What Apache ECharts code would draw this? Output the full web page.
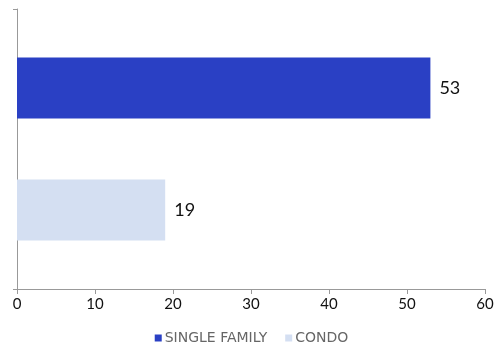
<!DOCTYPE html>
<html>
<head>
<meta charset="utf-8">
<script src="https://cdn.jsdelivr.net/npm/echarts@6/dist/echarts.min.js"></script>
<style>
  html, body { margin: 0; padding: 0; background: #fff; }
  #chart { width: 503px; height: 345px; }
</style>
</head>
<body>
<div id="chart"></div>
<script>
var categories = [''];
var seriesNames = ['SINGLE FAMILY', 'CONDO'];
var singleFamily = [53];
var condo = [19];
var xTicks = [0, 10, 20, 30, 40, 50, 60];

(function() {
    var myChart = echarts.init(document.getElementById('chart'));
    var font = 'Lato, "Open Sans", sans-serif';

    var option = {
        animation: false,
        grid: { left: 17, right: 18, top: 9, bottom: 56, containLabel: false },
        legend: {
            top: 326,
            left: 'center',
            itemWidth: 7,
            itemHeight: 7,
            itemGap: 18,
            icon: 'rect',
            textStyle: { color: '#666', fontSize: 14, fontFamily: '"DejaVu Sans", sans-serif', padding: [0, 0, 0, -2] },
            data: seriesNames
        },
        xAxis: {
            type: 'value',
            min: xTicks[0],
            max: xTicks[xTicks.length - 1],
            interval: 10,
            axisLine: { show: true, lineStyle: { color: '#999' } },
            axisTick: { show: true, length: 5, lineStyle: { color: '#999' } },
            splitLine: { show: false },
            axisLabel: { color: '#111', fontSize: 15, fontFamily: font, margin: 8 }
        },
        yAxis: {
            type: 'category',
            data: categories,
            inverse: true,
            axisLine: { show: true, lineStyle: { color: '#999' } },
            axisTick: { show: true, length: 4, lineStyle: { color: '#999' } },
            axisLabel: { show: false }
        },
        series: [
            {
                name: seriesNames[0],
                type: 'bar',
                data: singleFamily,
                barWidth: 61,
                barGap: '100%',
                itemStyle: { color: '#2a40c4' },
                label: { show: true, position: 'right', distance: 9, color: '#111', fontSize: 18, fontFamily: font }
            },
            {
                name: seriesNames[1],
                type: 'bar',
                data: condo,
                barWidth: 61,
                barGap: '100%',
                itemStyle: { color: '#d4dff2' },
                label: { show: true, position: 'right', distance: 9, color: '#111', fontSize: 18, fontFamily: font }
            }
        ]
    };

    myChart.setOption(option);
    window.addEventListener('resize', function() {
        myChart.resize();
    });
})();
</script>
</body>
</html>
